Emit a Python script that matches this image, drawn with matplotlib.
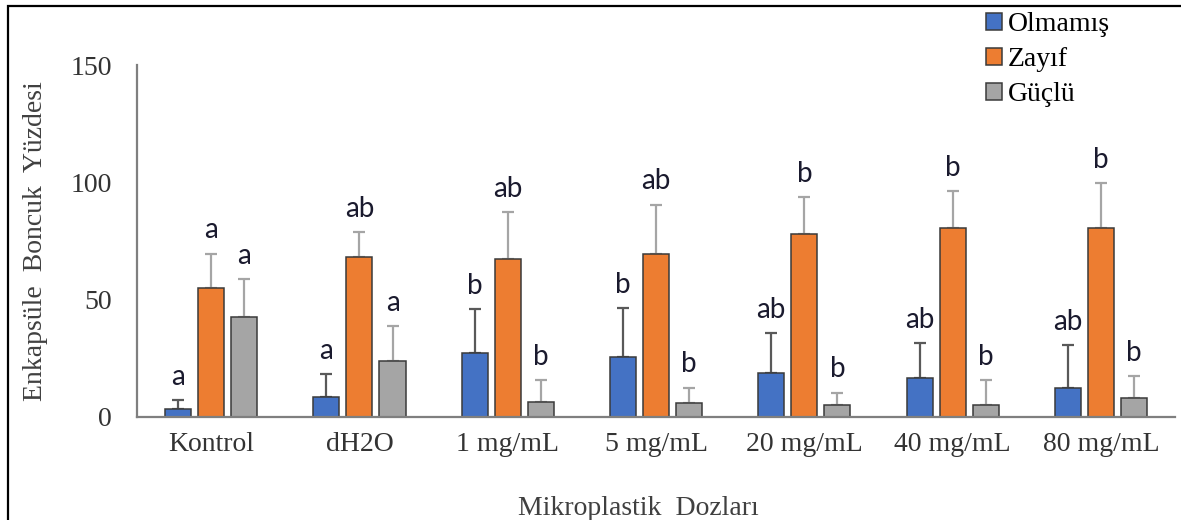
import matplotlib.pyplot as plt
import numpy as np
from matplotlib.patches import Rectangle

# Doses along the x axis
doses = ["Kontrol", "dH2O", "1 mg/mL", "5 mg/mL", "20 mg/mL", "40 mg/mL", "80 mg/mL"]

# Mean percentage of encapsulated beads per class, with upper SD
olmamis = [3.2, 8.5, 27.3, 25.6, 18.5, 16.4, 12.2]
olmamis_sd = [4.0, 9.6, 18.6, 20.6, 17.3, 15.1, 18.2]
zayif = [55.1, 68.2, 67.1, 69.3, 77.8, 80.3, 80.3]
zayif_sd = [14.5, 10.6, 20.2, 21.2, 15.9, 15.9, 19.4]
guclu = [42.6, 23.7, 6.4, 6.0, 4.8, 4.8, 8.1]
guclu_sd = [16.0, 15.0, 9.2, 6.4, 5.4, 10.8, 9.2]

# Significance letters
olmamis_sig = ["a", "a", "b", "b", "ab", "ab", "ab"]
zayif_sig = ["a", "ab", "ab", "ab", "b", "b", "b"]
guclu_sig = ["a", "a", "b", "b", "b", "b", "b"]

series = [
    ("Olmamış", olmamis, olmamis_sd, olmamis_sig, "#4472C4", "#595959"),
    ("Zayıf", zayif, zayif_sd, zayif_sig, "#ED7D31", "#A5A5A5"),
    ("Güçlü", guclu, guclu_sd, guclu_sig, "#A5A5A5", "#A5A5A5"),
]

serif = "Liberation Serif"
fs = 20

fig = plt.figure(figsize=(11.81, 5.2), dpi=100)
ax = fig.add_axes([0.116, 0.1987, 0.879, 0.676])

x = np.arange(len(doses))
width = 0.176
step = 0.223
for k, (name, vals, sd, sig, color, ecolor) in enumerate(series):
    pos = x + (k - 1) * step
    ax.bar(pos, vals, width, color=color, edgecolor="#3a3a3a", linewidth=1.1,
           label=name, zorder=2)
    ax.errorbar(pos, vals, yerr=[np.zeros(len(sd)), sd], fmt="none",
                ecolor=ecolor, elinewidth=1.6, capsize=4.5, capthick=1.6, zorder=1)
    for xi, v, s, letter in zip(pos, vals, sd, sig):
        ax.annotate(letter, (xi, v + s), xytext=(0, 11), textcoords="offset points",
                    ha="center", va="baseline", fontsize=20, family="Lato",
                    color="#1a1a2e")

ax.set_xlim(-0.5, len(doses) - 0.5)
ax.set_ylim(0, 150)
ax.set_yticks([0, 50, 100, 150])
ax.set_xticks(x, doses)
ax.tick_params(axis="both", length=0, labelsize=fs, colors="#333333")
ax.tick_params(axis="y", pad=18)
ax.tick_params(axis="x", pad=11)
for lab in ax.get_xticklabels() + ax.get_yticklabels():
    lab.set_family(serif)

for side in ["top", "right"]:
    ax.spines[side].set_visible(False)
for side in ["left", "bottom"]:
    ax.spines[side].set_color("#7f7f7f")
    ax.spines[side].set_linewidth(1.6)

ax.set_ylabel("Enkapsüle  Boncuk  Yüzdesi", fontsize=fs, family=serif, color="#404040")
ax.yaxis.set_label_coords(-0.0857, 0.5)
ax.set_xlabel("Mikroplastik  Dozları", fontsize=fs, family=serif, color="#404040")
ax.xaxis.set_label_coords(0.483, -0.225)

ax.legend(loc="upper left", bbox_to_anchor=(0.835, 0.977), bbox_transform=fig.transFigure,
          frameon=False, prop={"family": serif, "size": fs}, handlelength=0.58,
          handleheight=0.58, handletextpad=0.2, labelspacing=0.36, borderpad=0,
          borderaxespad=0)

# outer frame around the figure
fig.patches.append(Rectangle((8 / 1181, -0.2), 1.2, 1.2 - 6 / 520, transform=fig.transFigure,
                             fill=False, edgecolor="black", linewidth=1.6))

fig.savefig("out.png", dpi=100)
